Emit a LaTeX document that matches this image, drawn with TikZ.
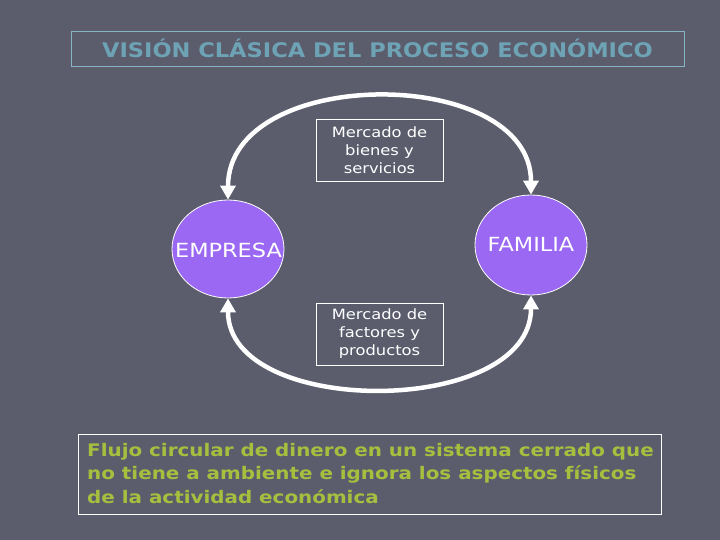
\documentclass[tikz,border=0pt]{standalone}
\usepackage{fontspec}
\setmainfont{DejaVu Sans}
\newfontfamily\widefont[FakeStretch=1.15]{DejaVu Sans}
\newfontfamily\titlefont[FakeStretch=1.12]{DejaVu Sans}
\usetikzlibrary{arrows.meta,shapes.geometric}
\definecolor{bgc}{HTML}{5B5D6C}
\definecolor{titlec}{HTML}{6EA3B5}
\definecolor{titleframe}{HTML}{86B4C4}
\definecolor{agentc}{HTML}{9A68F2}
\definecolor{notec}{HTML}{A6BF3E}
\tikzset{
  mkt/.style={draw=white, line width=0.8pt, minimum width=127pt, minimum height=62pt,
    text=white, align=center, font=\widefont\fontsize{14.2}{18}\selectfont, inner sep=0pt},
  agent/.style={ellipse, draw=white, line width=0.8pt, fill=agentc, inner sep=0pt},
  agentlabel/.style={text=white, inner sep=0pt, font=\widefont\fontsize{19.5}{22}\selectfont},
  flow/.style={draw=white, line width=4.5pt, {Triangle[length=14pt,width=15pt]}-{Triangle[length=14pt,width=15pt]}}
}
\begin{document}
\begin{tikzpicture}[x=1pt,y=-1pt]
\fill[bgc] (0,0) rectangle (720,540);
\useasboundingbox (0,0) rectangle (720,540);
\node[draw=titleframe, line width=0.8pt, minimum width=613pt, minimum height=35pt, inner sep=0pt,
  text=titlec, font=\titlefont\bfseries\fontsize{20.1}{22}\selectfont] (title) at (377.5,48.5) {VISIÓN CLÁSICA DEL PROCESO ECONÓMICO};
\node[mkt] (bienes) at (379.5,150) {Mercado de\\bienes y\\servicios};
\node[mkt] (factores) at (379.5,334) {Mercado de\\factores y\\productos};
\node[agent, minimum width=112pt, minimum height=98pt] (empresa) at (228,249) {};
\node[agentlabel] (empresaT) at (228.5,250) {EMPRESA};
\node[agent, minimum width=112pt, minimum height=100pt] (familia) at (531,245) {};
\node[agentlabel] (familiaT) at (531,244) {FAMILIA};
\draw[flow] (empresa.north) .. controls +(0,-135) and +(0,-130) .. (familia.north);
\draw[flow] (empresa.south) .. controls +(0,120) and +(0,122) .. (familia.south);
\node[draw=white, line width=0.8pt, minimum width=583pt, minimum height=80pt, inner sep=0pt] (nota) at (369.5,474) {};
\node[anchor=north west, inner sep=0pt, text=notec, align=left,
  font=\widefont\bfseries\fontsize{17.3}{23.5}\selectfont] (notaT) at (87,443) {Flujo circular de dinero en un sistema cerrado que\\no tiene a ambiente e ignora los aspectos físicos\\de la actividad económica};
\end{tikzpicture}
\end{document}
